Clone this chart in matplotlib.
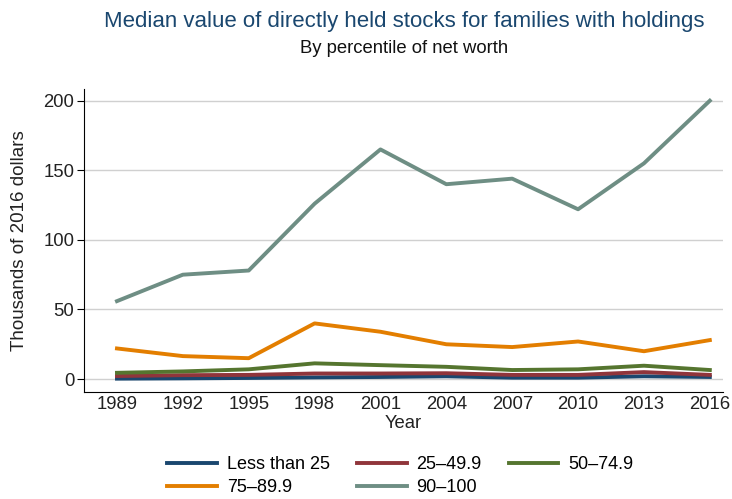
import matplotlib
matplotlib.use("Agg")
import matplotlib.pyplot as plt

plt.rcParams['font.family'] = ['Liberation Sans', 'DejaVu Sans']

years = [1989, 1992, 1995, 1998, 2001, 2004, 2007, 2010, 2013, 2016]
labels = ["Less than 25", "25\u201349.9", "50\u201374.9", "75\u201389.9", "90\u2013100"]
less25 = [0.3, 0.5, 0.8, 1.2, 1.5, 2.0, 1.0, 1.0, 2.0, 1.5]
p25_49 = [2.2, 2.8, 3.0, 4.0, 4.0, 4.2, 3.0, 3.0, 5.0, 3.0]
p50_74 = [4.5, 5.5, 7.0, 11.3, 10.0, 8.8, 6.5, 7.0, 9.6, 6.5]
p75_89 = [22, 16.5, 15, 40, 34, 25, 23, 27, 20, 28]
p90_100 = [56, 75, 78, 126, 165, 140, 144, 122, 155, 200]
colors = ["#1a476f", "#90353b", "#55752f", "#e37e00", "#6e8e84"]

fig = plt.figure(figsize=(7.32, 4.99), dpi=100)
ax = fig.add_axes([0.1148, 0.2144, 0.8729, 0.6072])

series = [less25, p25_49, p50_74, p75_89, p90_100]
lines = []
for s, c, lab in zip(series, colors, labels):
    ln, = ax.plot(years, s, color=c, lw=2.8, label=lab, zorder=3)
    lines.append(ln)

ax.set_xlim(1987.5, 2016.6)
ax.set_ylim(-9.3, 208.4)
ax.set_xticks(years)
ax.set_yticks([0, 50, 100, 150, 200])
ax.grid(axis='y', color='#d0d0d0', lw=1)
ax.set_axisbelow(True)
for sp in ['top', 'right']:
    ax.spines[sp].set_visible(False)
ax.tick_params(axis='x', length=0, labelsize=13.3, pad=3, colors='#222222')
ax.tick_params(axis='y', length=5, labelsize=13.3, pad=2, colors='#222222')
ax.tick_params(axis='both', color='black')
ax.set_ylabel("Thousands of 2016 dollars", fontsize=13.5, color='#222222')
ax.yaxis.set_label_coords(-0.088, 0.5)
ax.set_xlabel("Year", fontsize=13.3, color='#222222', labelpad=1)

fig.text(0.552, 0.946, "Median value of directly held stocks for families with holdings",
         ha='center', va='baseline', fontsize=16, color='#1a476f')
fig.text(0.552, 0.894, "By percentile of net worth", ha='center', va='baseline',
         fontsize=13.3, color='#111111')

order = [0, 3, 1, 4, 2]
fig.legend([lines[i] for i in order], [labels[i] for i in order], ncol=3,
           loc='center', bbox_to_anchor=(0.547, 0.046), frameon=False, fontsize=13,
           handlelength=2.75, columnspacing=1.5, labelspacing=0.33, handletextpad=0.55)

fig.savefig("out.png", dpi=100)
